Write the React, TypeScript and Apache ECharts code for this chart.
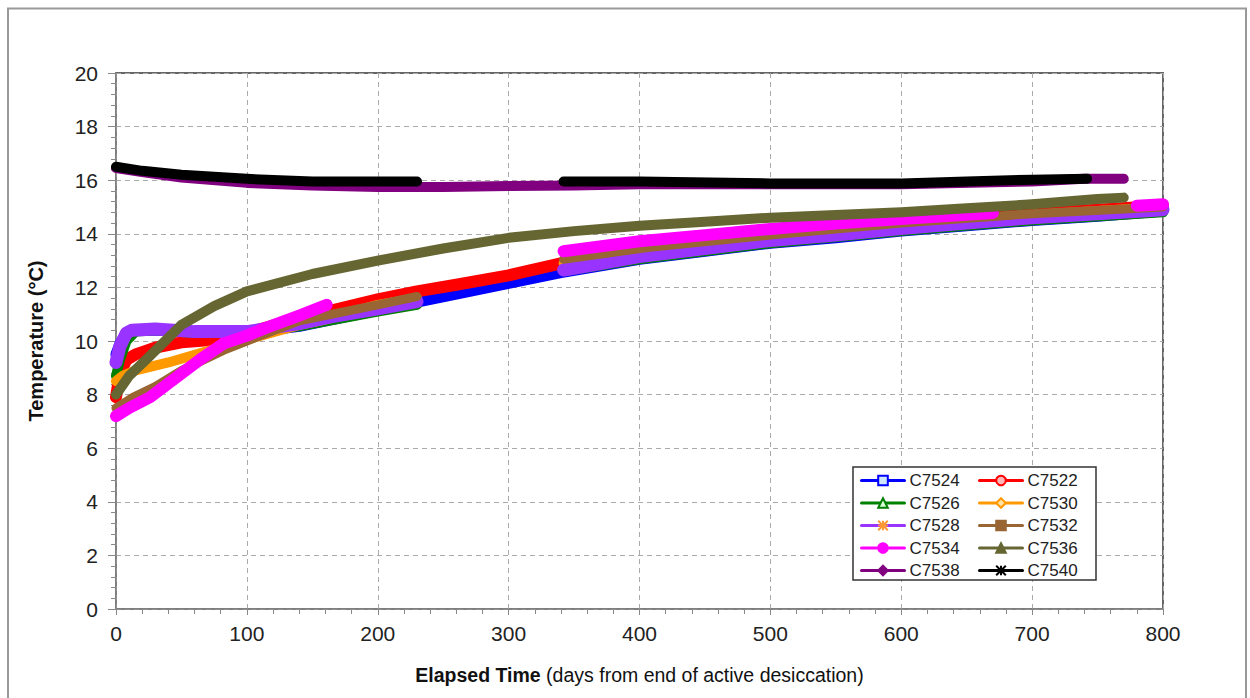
import React, { useEffect, useRef } from "react";
import * as echarts from "echarts";

// ---------- data ----------
const C7524_days = [0, 3, 8, 15, 30, 60, 100, 140, 200, 230, 260, 300, 340, 400, 450, 500, 550, 600, 650, 700, 750, 800];
const C7524_temp = [9.5, 9.9, 10.3, 10.4, 10.4, 10.35, 10.3, 10.55, 11.15, 11.45, 11.75, 12.15, 12.55, 13.05, 13.35, 13.65, 13.85, 14.1, 14.3, 14.5, 14.65, 14.85];

const C7522_days = [0, 3, 8, 15, 30, 50, 75, 100, 140, 200, 230, 260, 300, 340, 400, 500, 600, 700, 800];
const C7522_temp = [7.9, 8.8, 9.3, 9.5, 9.75, 9.95, 10.05, 10.3, 10.85, 11.55, 11.85, 12.1, 12.45, 12.9, 13.4, 14.0, 14.4, 14.75, 15.05];

const C7526_days = [0, 3, 8, 15, 33, 60, 100, 140, 200, 230, 286, 342, 400, 500, 600, 700, 800];
const C7526_temp = [8.7, 9.3, 10.0, 10.35, 10.4, 10.3, 10.3, 10.55, 11.1, 11.35, null, 12.6, 13.05, 13.65, 14.1, 14.5, 14.8];

const C7530_days = [0, 5, 15, 40, 72, 100, 140, 160, 200, 230, 286, 342, 400, 500, 600, 700, 800];
const C7530_temp = [8.5, 8.7, 8.9, 9.2, 9.65, 10.05, 10.6, 10.8, 11.35, 11.6, null, 12.9, 13.35, 13.9, 14.35, 14.7, 15.0];

const C7528_days = [0, 3, 8, 12, 30, 60, 100, 140, 164, 200, 230, 286, 342, 400, 450, 500, 550, 600, 650, 700, 750, 800];
const C7528_temp = [9.2, 9.8, 10.3, 10.4, 10.45, 10.35, 10.35, 10.65, 10.9, 11.2, 11.47, null, 12.65, 13.15, 13.45, 13.75, 13.95, 14.2, 14.4, 14.6, 14.75, 14.9];

const C7532_days = [0, 13, 30, 50, 82, 100, 140, 200, 230, 286, 342, 408, 500, 600, 700, 800];
const C7532_temp = [7.5, 7.9, 8.3, 8.9, 9.65, 10.0, 10.75, 11.35, 11.66, null, 13.05, 13.5, 13.95, 14.4, 14.75, 15.0];

const C7534_days = [0, 10, 26, 45, 64, 82, 100, 115, 140, 161, 250, 342, 400, 450, 500, 550, 600, 670, 725, 780, 800];
const C7534_temp = [7.2, 7.5, 7.9, 8.6, 9.3, 9.9, 10.2, 10.5, 10.95, 11.35, null, 13.35, 13.72, 13.95, 14.18, 14.38, 14.55, 14.78, null, 15.05, 15.1];

const C7536_days = [0, 10, 25, 50, 75, 100, 150, 200, 250, 300, 350, 400, 450, 500, 550, 600, 650, 700, 750, 770];
const C7536_temp = [8.0, 8.7, 9.4, 10.6, 11.3, 11.85, 12.5, 13.0, 13.45, 13.85, 14.1, 14.3, 14.45, 14.6, 14.7, 14.8, 14.95, 15.1, 15.3, 15.35];

const C7538_days = [0, 20, 50, 100, 150, 200, 250, 300, 350, 400, 500, 600, 700, 740, 770];
const C7538_temp = [16.45, 16.3, 16.1, 15.9, 15.8, 15.75, 15.75, 15.78, 15.8, 15.85, 15.85, 15.85, 15.95, 16.05, 16.05];

const C7540_days = [0, 20, 50, 100, 150, 200, 230, 286, 342, 400, 500, 600, 650, 700, 742];
const C7540_temp = [16.5, 16.35, 16.2, 16.05, 15.95, 15.95, 15.95, null, 15.95, 15.95, 15.88, 15.88, 15.95, 16.02, 16.05];

const X_TICKS = [0, 100, 200, 300, 400, 500, 600, 700, 800];
const Y_TICKS = [0, 2, 4, 6, 8, 10, 12, 14, 16, 18, 20];

const ASTERISK = "path://M0,0L10,10M10,0L0,10M5,0L5,10M0,5L10,5";

type Spec = {
  name: string;
  days: number[];
  temp: (number | null)[];
  color: string;
  symbol: string;
  fill: string;
  width: number;
};

const SPECS: Spec[] = [
  { name: "C7524", days: C7524_days, temp: C7524_temp, color: "#0000ff", symbol: "rect", fill: "#cfe6ff", width: 11 },
  { name: "C7522", days: C7522_days, temp: C7522_temp, color: "#ff0000", symbol: "circle", fill: "#ffb8b8", width: 12 },
  { name: "C7526", days: C7526_days, temp: C7526_temp, color: "#008000", symbol: "triangle", fill: "#d8ffd8", width: 10 },
  { name: "C7530", days: C7530_days, temp: C7530_temp, color: "#ff9900", symbol: "diamond", fill: "#ffe2a8", width: 10 },
  { name: "C7528", days: C7528_days, temp: C7528_temp, color: "#9933ff", symbol: ASTERISK, fill: "#ff9933", width: 13 },
  { name: "C7532", days: C7532_days, temp: C7532_temp, color: "#996633", symbol: "rect", fill: "#996633", width: 9 },
  { name: "C7534", days: C7534_days, temp: C7534_temp, color: "#ff00ff", symbol: "circle", fill: "#ff00ff", width: 12 },
  { name: "C7536", days: C7536_days, temp: C7536_temp, color: "#666633", symbol: "triangle", fill: "#666633", width: 10 },
  { name: "C7538", days: C7538_days, temp: C7538_temp, color: "#800080", symbol: "diamond", fill: "#800080", width: 10 },
  { name: "C7540", days: C7540_days, temp: C7540_temp, color: "#000000", symbol: ASTERISK, fill: "#000000", width: 10 },
];

const FONT = "'Liberation Sans', Arial, sans-serif";

export default function App() {
  const ref = useRef<HTMLDivElement>(null);

  useEffect(() => {
    if (!ref.current) return;
    const chart = echarts.init(ref.current, null, { renderer: "svg" });

    const series = SPECS.map((s, idx) => ({
      name: s.name,
      type: "line",
      data: s.days.map((d, i) => [d, s.temp[i] === null ? "-" : s.temp[i]]),
      symbol: s.symbol,
      symbolSize: 9,
      showSymbol: false,
      connectNulls: false,
      z: 2 + idx * 0.01,
      lineStyle: { color: s.color, width: s.width, cap: "round", join: "round" },
      itemStyle: { color: s.fill, borderColor: s.symbol === ASTERISK ? s.fill : s.color, borderWidth: 1.2 },
      emphasis: { disabled: true },
    }));

    const legendCommon = {
      orient: "vertical",
      itemWidth: 43,
      itemHeight: 12,
      itemGap: 5.5,
      padding: 0,
      textStyle: { fontFamily: FONT, fontSize: 17, color: "#222", padding: [0, 0, 0, 0] },
      lineStyle: { width: 3 },
      z: 20,
      selectedMode: false,
    };

    chart.setOption({
      animation: false,
      backgroundColor: "#ffffff",
      grid: {
        left: 116,
        top: 73,
        right: 87,
        bottom: 89,
        show: true,
        borderColor: "#666",
        borderWidth: 2,
      },
      xAxis: {
        type: "value",
        min: 0,
        max: 800,
        interval: 100,
        name: "{b|Elapsed Time} (days from end of active desiccation)",
        nameLocation: "middle",
        nameGap: 56,
        nameTextStyle: {
          fontFamily: FONT,
          fontSize: 19.5,
          color: "#111",
          rich: { b: { fontFamily: FONT, fontSize: 19.5, fontWeight: "bold", color: "#111" } },
        },
        axisLine: { show: true, lineStyle: { color: "#888", width: 1.5 } },
        axisTick: { show: true, length: 6, lineStyle: { color: "#888" } },
        minorTick: { show: true, splitNumber: 5, length: 5, lineStyle: { color: "#888" } },
        axisLabel: {
          fontFamily: FONT,
          fontSize: 21,
          color: "#222",
          margin: 14,
          formatter: (v: number) => (X_TICKS.includes(v) ? String(v) : ""),
        },
        splitLine: { show: true, lineStyle: { color: "#aaa", type: [5, 4], width: 1 } },
      },
      yAxis: {
        type: "value",
        min: 0,
        max: 20,
        interval: 2,
        name: "Temperature (°C)",
        nameLocation: "middle",
        nameRotate: 90,
        nameGap: 70,
        nameTextStyle: { fontFamily: FONT, fontSize: 20, fontWeight: "bold", color: "#111" },
        axisLine: { show: true, lineStyle: { color: "#888", width: 1.5 } },
        axisTick: { show: true, length: 8, lineStyle: { color: "#888" } },
        minorTick: { show: true, splitNumber: 5, length: 5, lineStyle: { color: "#888" } },
        axisLabel: {
          fontFamily: FONT,
          fontSize: 21,
          color: "#222",
          margin: 18,
          formatter: (v: number) => (Y_TICKS.includes(v) ? String(v) : ""),
        },
        splitLine: { show: true, lineStyle: { color: "#aaa", type: [5, 4], width: 1 } },
      },
      legend: [
        { ...legendCommon, left: 860, top: 472, data: ["C7524", "C7526", "C7528", "C7534", "C7538"] },
        { ...legendCommon, left: 978, top: 472, data: ["C7522", "C7530", "C7532", "C7536", "C7540"] },
      ],
      graphic: [
        {
          type: "rect",
          z: 10,
          shape: { x: 8, y: 8.5, width: 1238, height: 720 },
          style: { fill: "none", stroke: "#999", lineWidth: 2 },
        },
        {
          type: "rect",
          z: 10,
          shape: { x: 853, y: 467, width: 243, height: 113 },
          style: { fill: "#fff", stroke: "#333", lineWidth: 1.5 },
        },
      ],
      series,
    });

    return () => chart.dispose();
  }, []);

  return (
    <div
      ref={ref}
      style={{ position: "fixed", left: 0, top: 0, width: 1250, height: 698, background: "#fff" }}
    />
  );
}
